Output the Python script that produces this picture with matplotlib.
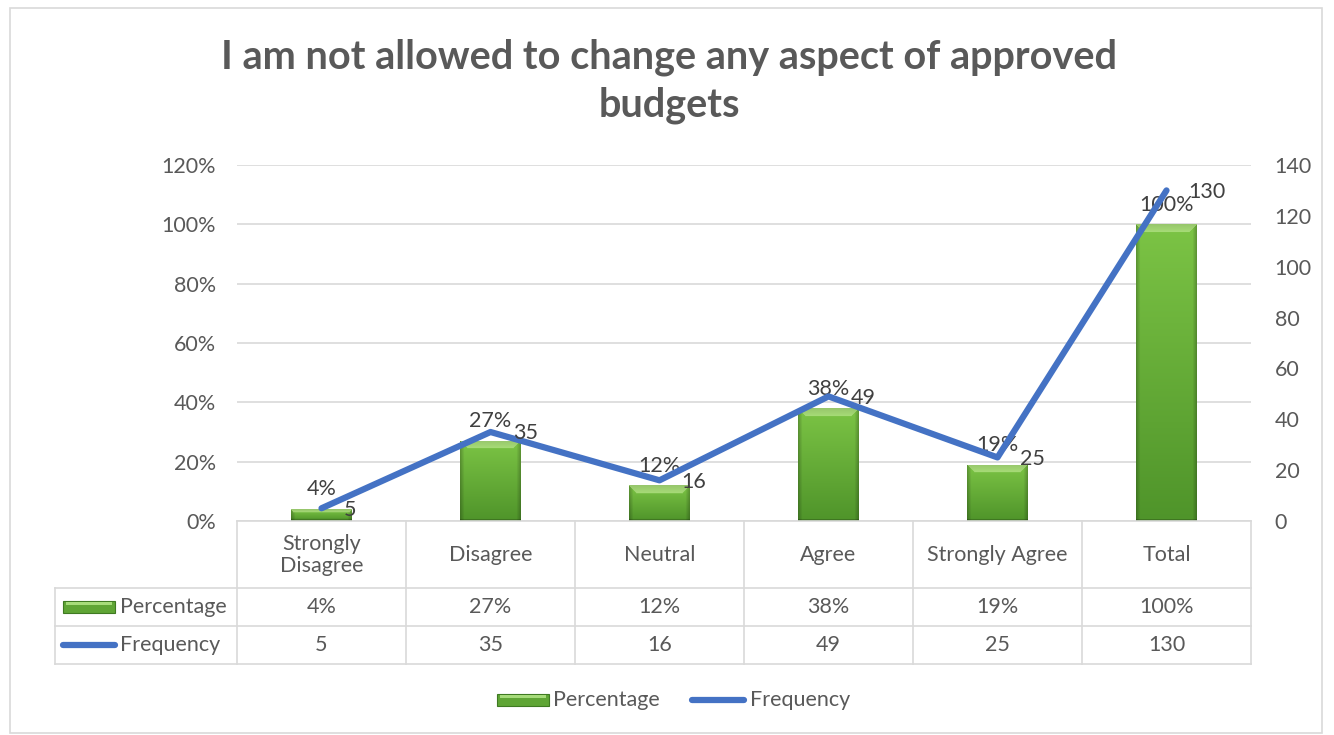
import numpy as np
import matplotlib
matplotlib.use("Agg")
import matplotlib.pyplot as plt
from matplotlib.lines import Line2D
from matplotlib.patches import Rectangle

plt.rcParams['font.family'] = ['Lato', 'DejaVu Sans']

# DATA
categories = ['Strongly\nDisagree', 'Disagree', 'Neutral', 'Agree', 'Strongly Agree', 'Total']
percentage = [0.04, 0.27, 0.12, 0.38, 0.19, 1.00]
frequency = [5, 35, 16, 49, 25, 130]
pct_labels = ['4%', '27%', '12%', '38%', '19%', '100%']
title_lines = ['I am not allowed to change any aspect of approved', 'budgets']

W, H = 1334, 735
GREY = '#595959'
GRID = '#D9D9D9'
BLUE = '#4472C4'
FS = 15.5

def fx(px):
    return px / W

def fy(py):
    return 1 - py / H

fig = plt.figure(figsize=(W / 100, H / 100), dpi=100)

# plot area in pixels
L, R, T, B = 237, 1251, 165, 521
ax = fig.add_axes([fx(L), fy(B), fx(R - L), fy(T) - fy(B)])
ax2 = ax.twinx()

x = np.arange(len(categories))
bw = 0.36
bars = ax.bar(x, percentage, width=bw, color='#62AD36', linewidth=0, zorder=2)

top_c = np.array([0x7C, 0xC4, 0x45]) / 255
bot_c = np.array([0x4F, 0x94, 0x2A]) / 255
hi_c = np.array([0xA8, 0xDD, 0x78]) / 255
px_per_unit = (B - T) / 1.2
for b in bars:
    h = b.get_height()
    hp = max(int(h * px_per_unit), 4)
    wp = 60
    t = np.linspace(0, 1, hp)[:, None, None]          # 0 bottom, 1 top
    img = bot_c + (top_c - bot_c) * t
    img = np.repeat(img, wp, axis=1)
    xs = np.arange(wp)
    side = np.minimum(xs, wp - 1 - xs)
    fac = np.where(side < 4, 0.78 + 0.055 * side, 1.0)
    img = img * fac[None, :, None]
    band = min(8, hp // 3)
    for r in range(band):
        img[hp - 1 - r, side >= r] = hi_c * (0.9 + 0.1 * (r / max(band, 1)))
    img[0:2, :] *= 0.8
    im = ax.imshow(np.clip(img, 0, 1), aspect='auto', zorder=2.1, interpolation='bilinear',
                   extent=[b.get_x(), b.get_x() + b.get_width(), 0, h], origin='lower')
    im.set_clip_path(b)

ax.set_xlim(-0.5, len(categories) - 0.5)
ax.set_ylim(0, 1.2)
ax.set_yticks(np.arange(0, 1.21, 0.2))
ax.set_yticklabels([f'{int(round(v * 100))}%' for v in np.arange(0, 1.21, 0.2)])
ax.yaxis.grid(True, color=GRID, linewidth=1.2, zorder=0)
ax.set_axisbelow(True)
ax.set_xticks([])
for s in ['top', 'left', 'right']:
    ax.spines[s].set_visible(False)
    ax2.spines[s].set_visible(False)
ax.spines['bottom'].set_color(GRID)
ax.spines['bottom'].set_linewidth(1.2)
ax2.spines['bottom'].set_visible(False)
ax.tick_params(axis='y', length=0, labelsize=FS, labelcolor=GREY, pad=15)

ax2.plot(x, frequency, color=BLUE, linewidth=4.5, solid_capstyle='round', zorder=3)
ax2.set_ylim(0, 140)
ax2.set_yticks(np.arange(0, 141, 20))
ax2.tick_params(axis='y', length=0, labelsize=FS, labelcolor=GREY, pad=17)

for xi, p, lab in zip(x, percentage, pct_labels):
    ax.annotate(lab, (xi, p), xytext=(0, 7), textcoords='offset points',
                ha='center', va='bottom', fontsize=FS, color='#404040', zorder=5)
for xi, f in zip(x, frequency):
    ax2.annotate(str(f), (xi, f), xytext=(16, -1), textcoords='offset points',
                 ha='left', va='center', fontsize=FS, color='#404040', zorder=5)

# data table
col_w = (R - L) / len(categories)
for k in range(len(categories) + 1):
    xx = L + k * col_w
    fig.add_artist(Line2D([fx(xx), fx(xx)], [fy(521), fy(664)], color=GRID, linewidth=1.2))
fig.add_artist(Line2D([fx(55), fx(55)], [fy(588), fy(664)], color=GRID, linewidth=1.2))
for yy in [588, 626, 664]:
    fig.add_artist(Line2D([fx(55), fx(R)], [fy(yy), fy(yy)], color=GRID, linewidth=1.2))

for k, cat in enumerate(categories):
    cx = L + (k + 0.5) * col_w
    fig.text(fx(cx), fy(555), cat, ha='center', va='center', fontsize=FS, color=GREY, linespacing=1.15)
    fig.text(fx(cx), fy(607), pct_labels[k], ha='center', va='center', fontsize=FS, color=GREY)
    fig.text(fx(cx), fy(645), str(frequency[k]), ha='center', va='center', fontsize=FS, color=GREY)

# legend keys
def green_key(x0, yc, w=52, h=12):
    fig.add_artist(Rectangle((fx(x0), fy(yc + h / 2)), w / W, h / H, transform=fig.transFigure,
                             facecolor='#5FA535', edgecolor='#3F7A22', linewidth=0.8))
    fig.add_artist(Rectangle((fx(x0 + 3), fy(yc - 2)), (w - 6) / W, 3 / H, transform=fig.transFigure,
                             facecolor='#A6DB7A', linewidth=0))

def blue_key(x0, yc, w=52):
    fig.add_artist(Line2D([fx(x0), fx(x0 + w)], [fy(yc), fy(yc)], color=BLUE, linewidth=4.5,
                          solid_capstyle='round'))

green_key(63, 607)
fig.text(fx(120), fy(607), 'Percentage', ha='left', va='center', fontsize=FS, color=GREY)
blue_key(63, 645)
fig.text(fx(120), fy(645), 'Frequency', ha='left', va='center', fontsize=FS, color=GREY)

green_key(497, 700)
fig.text(fx(553), fy(700), 'Percentage', ha='left', va='center', fontsize=FS, color=GREY)
blue_key(692, 700)
fig.text(fx(750), fy(700), 'Frequency', ha='left', va='center', fontsize=FS, color=GREY)

fig.text(fx(669), fy(57), title_lines[0], ha='center', va='center', fontsize=28.5, fontweight='bold', color=GREY)
fig.text(fx(669), fy(105), title_lines[1], ha='center', va='center', fontsize=28.5, fontweight='bold', color=GREY)

# chart border
fig.add_artist(Rectangle((fx(10), fy(733)), (1322 - 10) / W, (733 - 8) / H, transform=fig.transFigure,
                         fill=False, edgecolor=GRID, linewidth=1.2))

fig.savefig('out.png', dpi=100)
